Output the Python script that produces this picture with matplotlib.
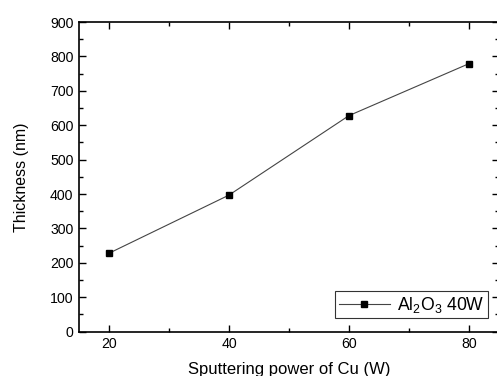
import numpy as np
import matplotlib
matplotlib.use("Agg")
import matplotlib.pyplot as plt
from matplotlib.ticker import MultipleLocator

#------------------------------------------------------ Data ------------------------------------------------------------
Power = [20, 40, 60, 80]            # Sputtering power of Cu (W)
Thickness = [228, 397, 628, 779]    # Thickness (nm)
SeriesLabel = r"Al$_2$O$_3$ 40W"

#----------------------------------------------------- Figure -----------------------------------------------------------
plt.rcParams['font.family'] = ['Liberation Sans', 'DejaVu Sans']
plt.rcParams['mathtext.fontset'] = 'custom'
plt.rcParams['mathtext.rm'] = 'Liberation Sans'

fig = plt.figure(figsize = (4.97, 3.76), dpi = 100)
ax = fig.add_axes([79 / 497, 1 - 331.7 / 376, 420 / 497, 309.7 / 376])

ax.plot(Power, Thickness, color = '#444444', linewidth = 0.8, marker = 's', markersize = 5,
        markerfacecolor = 'black', markeredgecolor = 'black', label = SeriesLabel)

ax.set_xlim(15, 85)
ax.set_ylim(0, 900)
ax.xaxis.set_major_locator(MultipleLocator(20))
ax.xaxis.set_minor_locator(MultipleLocator(10))
ax.yaxis.set_major_locator(MultipleLocator(100))
ax.yaxis.set_minor_locator(MultipleLocator(50))
ax.tick_params(which = 'both', direction = 'in', top = True, right = True, labelsize = 10.2, width = 1)
ax.tick_params(which = 'major', length = 5, pad = 4)
ax.tick_params(which = 'minor', length = 3)
for s in ax.spines.values():
    s.set_linewidth(1.2)

ax.set_xlabel("Sputtering power of Cu (W)", fontsize = 12, labelpad = 8)
ax.set_ylabel("Thickness (nm)", fontsize = 11.5, labelpad = 15)

leg = ax.legend(loc = 'lower right', fontsize = 12.7, frameon = True, fancybox = False, handlelength = 2.9,
                handletextpad = 0.4, borderpad = 0.2, borderaxespad = 0.0, bbox_to_anchor = (0.9735, 0.043),
                markerscale = 0.85)
leg.get_frame().set_edgecolor('black')
leg.get_frame().set_linewidth(0.8)

plt.savefig("out.png", dpi = 100)
